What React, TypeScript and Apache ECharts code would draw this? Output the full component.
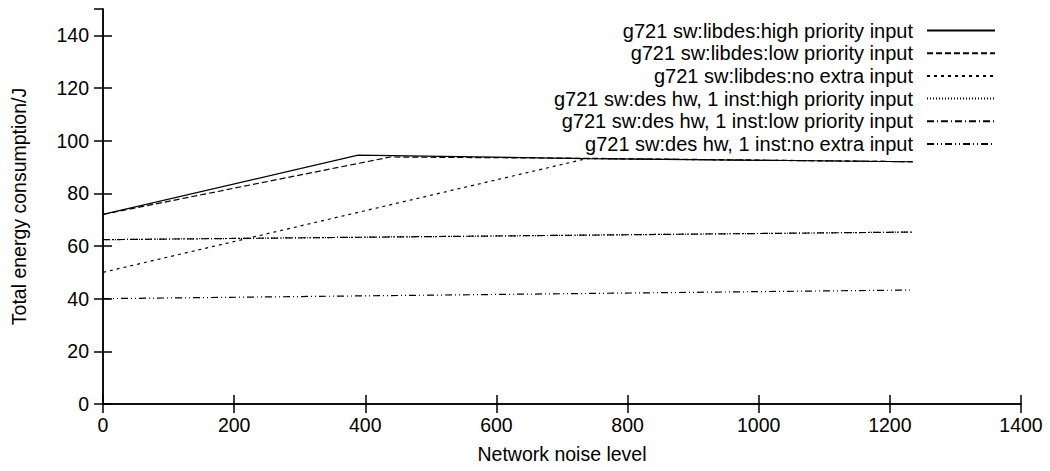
import React, { useEffect, useRef } from "react";
import * as echarts from "echarts";

const seriesNames = [
  "g721 sw:libdes:high priority input",
  "g721 sw:libdes:low priority input",
  "g721 sw:libdes:no extra input",
  "g721 sw:des hw, 1 inst:high priority input",
  "g721 sw:des hw, 1 inst:low priority input",
  "g721 sw:des hw, 1 inst:no extra input",
];

const libdesHighX = [0, 389, 738, 1235];
const libdesHighY = [72, 94.5, 93.2, 92];
const libdesLowX = [0, 438, 738, 1235];
const libdesLowY = [72, 93.8, 93.3, 92];
const libdesNoneX = [0, 738, 1235];
const libdesNoneY = [50, 93.2, 92];
const hwHighX = [0, 1235];
const hwHighY = [62.4, 65.3];
const hwLowX = [0, 1235];
const hwLowY = [62.4, 65.3];
const hwNoneX = [0, 1235];
const hwNoneY = [40, 43.3];

const xs = [libdesHighX, libdesLowX, libdesNoneX, hwHighX, hwLowX, hwNoneX];
const ys = [libdesHighY, libdesLowY, libdesNoneY, hwHighY, hwLowY, hwNoneY];
const dashes: any[] = ["solid", [6, 3], [3, 4], [1, 2], [7, 3, 1, 3], [7, 3, 1, 3, 1, 3]];

const FONT = "'Liberation Sans', Arial, Helvetica, sans-serif";

export default function App() {
  const ref = useRef<HTMLDivElement>(null);
  useEffect(() => {
    if (!ref.current) return;
    const chart = echarts.init(ref.current, undefined, { renderer: "svg" });
    const axisCommon = {
      axisLine: { show: true, lineStyle: { color: "#000", width: 1.5 } },
      axisTick: { show: true, inside: true, length: 9, lineStyle: { color: "#000", width: 1.5 } },
      splitLine: { show: false },
    };
    const series = seriesNames.map((name, i) => ({
      name,
      type: "line",
      xAxisIndex: 0,
      yAxisIndex: 0,
      symbol: "none",
      showSymbol: false,
      data: xs[i].map((x, j) => [x, ys[i][j]]),
      lineStyle: { color: "#000", width: 1.2, type: dashes[i] },
      itemStyle: { color: "#000" },
    }));
    const legends = seriesNames.map((name, i) => ({
      data: [name],
      orient: "vertical",
      align: "right",
      right: 54,
      top: 20.5 + 22.7 * i,
      padding: 0,
      itemWidth: 68,
      itemHeight: 20,
      selectedMode: false,
      itemStyle: { color: "transparent", borderWidth: 0, opacity: 0 },
      textStyle: { fontFamily: FONT, fontSize: 20, color: "#000", padding: [0, 9, 0, 0] },
    }));
    chart.setOption({
      animation: false,
      backgroundColor: "#fff",
      grid: { left: 103, right: 29, top: 9, bottom: 67 },
      legend: legends,
      xAxis: [
        {
          type: "value",
          min: 0,
          max: 1400,
          interval: 200,
          position: "bottom",
          name: "Network noise level",
          nameLocation: "middle",
          nameGap: 40,
          nameTextStyle: { fontFamily: FONT, fontSize: 19.5, color: "#000" },
          axisLabel: {
            fontFamily: FONT,
            fontSize: 19.5,
            color: "#000",
            margin: 11,
            formatter: (v: number) => String(v),
          },
          ...axisCommon,
        },
        {
          type: "value",
          min: 0,
          max: 1400,
          interval: 200,
          position: "top",
          axisLabel: { show: false },
          ...axisCommon,
        },
      ],
      yAxis: [
        {
          type: "value",
          min: 0,
          max: 150,
          interval: 20,
          position: "left",
          name: "Total energy consumption/J",
          nameLocation: "middle",
          nameGap: 74,
          nameRotate: 90,
          nameTextStyle: { fontFamily: FONT, fontSize: 19.5, color: "#000" },
          axisLabel: {
            fontFamily: FONT,
            fontSize: 19.5,
            color: "#000",
            margin: 14,
            showMaxLabel: false,
            formatter: (v: number) => String(v),
          },
          ...axisCommon,
        },
        {
          type: "value",
          min: 0,
          max: 150,
          interval: 20,
          position: "right",
          axisLabel: { show: false },
          ...axisCommon,
        },
      ],
      series,
    });
    return () => chart.dispose();
  }, []);
  return (
    <div
      ref={ref}
      style={{ position: "fixed", left: 0, top: 0, width: 1050, height: 471, background: "#fff" }}
    />
  );
}
